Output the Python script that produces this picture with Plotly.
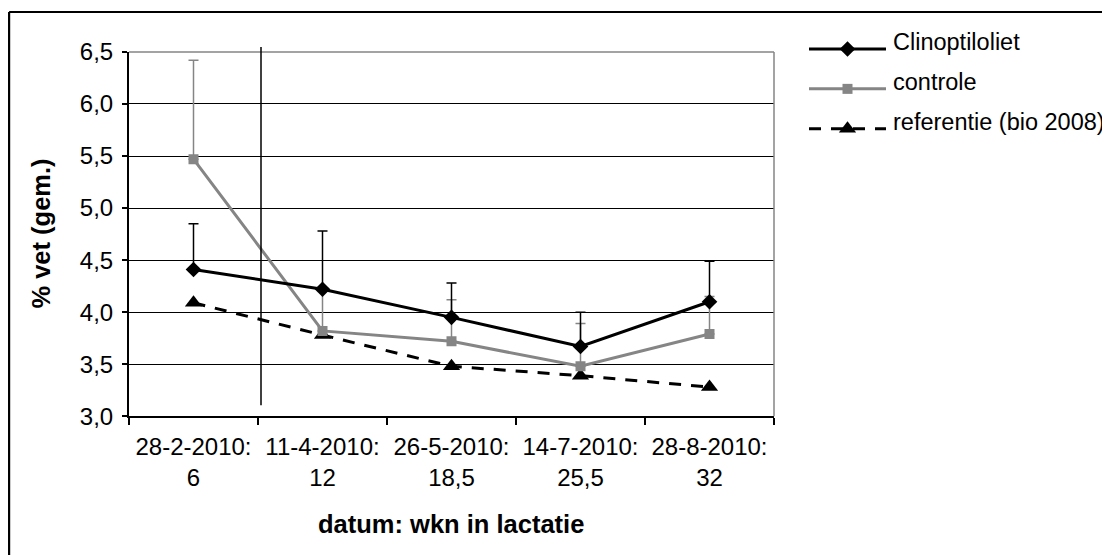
import plotly.graph_objects as go

# ---------------- data ----------------
categories = ["28-2-2010:<br>6", "11-4-2010:<br>12", "26-5-2010:<br>18,5",
              "14-7-2010:<br>25,5", "28-8-2010:<br>32"]
clino = [4.41, 4.22, 3.95, 3.67, 4.10]
clino_upper = [4.85, 4.78, 4.28, 4.00, 4.49]
controle = [5.47, 3.82, 3.72, 3.48, 3.79]
controle_upper = [6.42, 4.22, 4.12, 3.89, 4.15]
referentie = [4.09, 3.78, 3.48, 3.39, 3.28]
y_ticks = [3.0, 3.5, 4.0, 4.5, 5.0, 5.5, 6.0, 6.5]
series_names = ["Clinoptiloliet", "controle", "referentie (bio 2008)"]

W, H = 1110, 555
FONT = "Liberation Sans, Arial, sans-serif"
FS = 24
FS_LEG = 23.5
FS_TITLE = 25.5
GRAY = "#858585"

# empirical mapping from screenshot pixels to paper fractions
OX, OY, PH = 8.0, 21.0, 529.0


def px(p):
    return (p - OX) / W


def py(p):
    return 1 - (p - OY) / PH


styles = {
    "Clinoptiloliet": dict(line=dict(color="black", width=3),
                           marker=dict(symbol="diamond", size=12, color="black")),
    "controle": dict(line=dict(color=GRAY, width=3),
                     marker=dict(symbol="square", size=10, color=GRAY)),
    "referentie (bio 2008)": dict(line=dict(color="black", width=3, dash="12px,10px"),
                                  marker=dict(symbol="triangle-up", size=15, color="black")),
}

fig = go.Figure()

fig.add_trace(go.Scatter(x=categories, y=referentie, mode="lines+markers",
                         name=series_names[2], showlegend=False,
                         **styles[series_names[2]]))
fig.add_trace(go.Scatter(
    x=categories, y=controle, mode="lines+markers", name=series_names[1], showlegend=False,
    error_y=dict(type="data", symmetric=False,
                 array=[u - v for u, v in zip(controle_upper, controle)],
                 arrayminus=[0] * len(controle), color=GRAY, thickness=1.5, width=5),
    **styles[series_names[1]]))
fig.add_trace(go.Scatter(
    x=categories, y=clino, mode="lines+markers", name=series_names[0], showlegend=False,
    error_y=dict(type="data", symmetric=False,
                 array=[u - v for u, v in zip(clino_upper, clino)],
                 arrayminus=[0] * len(clino), color="black", thickness=1.5, width=5),
    **styles[series_names[0]]))

# ---- manual legend on an overlay axis in screen-pixel units ----
leg_x0, leg_x1, leg_text_x = 809, 886, 891
leg_line_y0, leg_gap, leg_text_dy = 48, 40, -7
for i, name in enumerate(series_names):
    ly = leg_line_y0 + i * leg_gap
    st = styles[name]
    fig.add_trace(go.Scatter(x=[leg_x0, leg_x1], y=[ly, ly], mode="lines",
                             line=st["line"], xaxis="x2", yaxis="y2",
                             showlegend=False, hoverinfo="skip"))
    fig.add_trace(go.Scatter(x=[(leg_x0 + leg_x1) / 2], y=[ly], mode="markers",
                             marker=st["marker"], xaxis="x2", yaxis="y2",
                             showlegend=False, hoverinfo="skip"))
    fig.add_annotation(x=px(leg_text_x), y=py(ly + leg_text_dy), xref="paper", yref="paper",
                       text=name, showarrow=False, xanchor="left", yanchor="middle",
                       font=dict(family=FONT, size=FS_LEG, color="black"))

# axis titles
fig.add_annotation(x=px(41), y=py(233), xref="paper", yref="paper",
                   text="<b>% vet (gem.)</b>", textangle=-90, showarrow=False,
                   xanchor="center", yanchor="middle",
                   font=dict(family=FONT, size=FS_TITLE, color="black"))
fig.add_annotation(x=px(451), y=py(524), xref="paper", yref="paper",
                   text="<b>datum: wkn in lactatie</b>", showarrow=False,
                   xanchor="center", yanchor="middle",
                   font=dict(family=FONT, size=FS_TITLE, color="black"))

shapes = [
    dict(type="line", xref="x domain", yref="y domain", x0=0, x1=1, y0=1, y1=1,
         line=dict(color=GRAY, width=1.5), layer="above"),
    dict(type="line", xref="x domain", yref="y domain", x0=1, x1=1, y0=0, y1=1,
         line=dict(color=GRAY, width=1.5), layer="above"),
    dict(type="line", xref="paper", yref="paper", x0=px(261), x1=px(261),
         y0=py(46), y1=py(405), line=dict(color="black", width=1.5)),
    dict(type="line", xref="paper", yref="paper", x0=0.001, x1=0.001,
         y0=-0.1, y1=py(11), line=dict(color="black", width=2.2)),
    dict(type="line", xref="paper", yref="paper", x0=0.001, x1=1.05,
         y0=py(11), y1=py(11), line=dict(color="black", width=2.2)),
]

fig.update_layout(
    width=W, height=H,
    margin=dict(l=0, r=0, t=0, b=0),
    paper_bgcolor="white", plot_bgcolor="rgba(0,0,0,0)",
    separators=", ",
    font=dict(family=FONT, size=FS, color="black"),
    showlegend=False,
    shapes=shapes,
    xaxis=dict(domain=[px(129), px(774)], type="category", range=[-0.5, 4.5],
               showline=True, linecolor="black", linewidth=2,
               ticks="outside", ticklen=7, tickwidth=1.5, tickcolor="black",
               tickson="boundaries", showgrid=False, ticklabelstandoff=8,
               tickfont=dict(family=FONT, size=FS, color="black"), anchor="y"),
    yaxis=dict(domain=[py(416), py(51)], range=[3.0, 6.5], tickvals=y_ticks,
               tickformat=".1f", showline=True, linecolor="black", linewidth=2,
               ticks="outside", ticklen=5, tickwidth=1.5, tickcolor="black",
               showgrid=True, gridcolor="black", gridwidth=1.3,
               zeroline=False, ticklabelstandoff=4,
               tickfont=dict(family=FONT, size=FS, color="black"), anchor="x"),
    xaxis2=dict(domain=[0, 1], range=[OX, OX + W], visible=False, anchor="y2", fixedrange=True),
    yaxis2=dict(domain=[0, 1], range=[OY + PH, OY], visible=False, anchor="x2", fixedrange=True),
)

fig.write_html("out.html")
